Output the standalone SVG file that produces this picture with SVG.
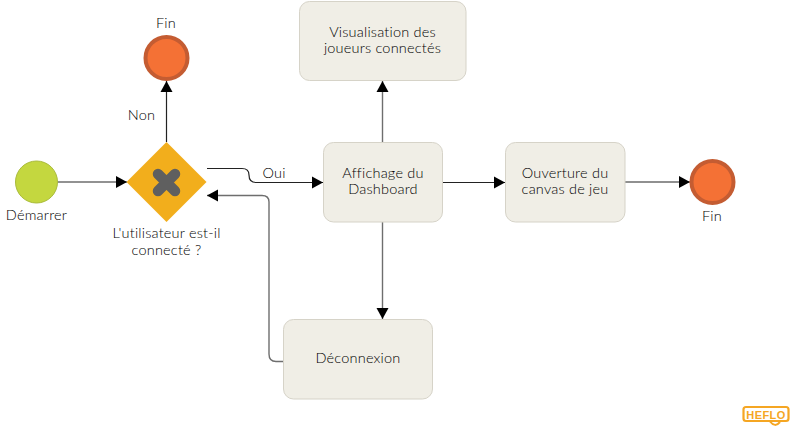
<svg xmlns="http://www.w3.org/2000/svg" width="792" height="431" viewBox="0 0 792 431">
<style>
text{font-family:"Lato","Liberation Sans",sans-serif;font-size:14.500px;font-weight:300;letter-spacing:.2px;fill:#000;text-anchor:middle}
.task{fill:#f0eee6;stroke:#d6d3c8;stroke-width:1}
.end{fill:#f47135;stroke:#c45c32;stroke-width:4}
.c{fill:none;stroke:#222;stroke-width:1.200}
.g{fill:none;stroke:#6e6e6e;stroke-width:1.400}
</style>
<defs>
<marker id="a" markerUnits="userSpaceOnUse" markerWidth="12" markerHeight="13" refX="11" refY="6.500" orient="auto"><path d="M0 0.500L11 6.500L0 12.500Z" fill="#000"/></marker>
</defs>
<rect width="792" height="431" fill="#fff"/>
<g id="connectors">
<path class="g" d="M58 182H127" marker-end="url(#a)"/>
<path class="c" d="M166.500 142V81" marker-end="url(#a)"/>
<path class="c" d="M207 168.500H242Q249 168.500 249 175Q249 182.500 256 182.500H323" marker-end="url(#a)"/>
<path class="g" d="M283 361.500H276Q269 361.500 269 354V202Q269 195.500 262 195.500H207" marker-end="url(#a)"/>
<path class="g" d="M382.500 142V81" marker-end="url(#a)"/>
<path class="c" d="M442.500 182.500H505" marker-end="url(#a)"/>
<path class="g" d="M382.500 222V319" marker-end="url(#a)"/>
<path class="c" d="M625 182H690" marker-end="url(#a)"/>
</g>
<g id="start"><circle cx="36.500" cy="182" r="21" fill="#c4d73f" stroke="#a9bb3a"/><text x="36.500" y="220">Démarrer</text></g>
<g id="gateway"><path d="M166.500 142L206.500 182L166.500 222L126.500 182Z" fill="#f2ae1c"/>
<path d="M158 174L175 191M175 174L158 191" stroke="#5f5f5f" stroke-width="10.500" stroke-linecap="round"/>
<text x="166.500" y="238">L'utilisateur est-il</text><text x="166.500" y="255">connecté ?</text></g>
<g id="endTop"><circle class="end" cx="166.500" cy="58" r="21"/><text x="166" y="28">Fin</text></g>
<g id="visu"><rect class="task" x="299.500" y="1.500" width="166.500" height="79" rx="10"/><text x="382.500" y="37">Visualisation des</text><text x="382.500" y="53">joueurs connectés</text></g>
<g id="dashboard"><rect class="task" x="323.500" y="142.500" width="119" height="79.500" rx="10"/><text x="383" y="178">Affichage du</text><text x="383" y="194">Dashboard</text></g>
<g id="canvas"><rect class="task" x="505.500" y="142.500" width="119.500" height="79.500" rx="10"/><text x="565" y="178">Ouverture du</text><text x="565" y="194">canvas de jeu</text></g>
<g id="endRight"><circle class="end" cx="712.500" cy="182" r="21"/><text x="712" y="221">Fin</text></g>
<g id="logout"><rect class="task" x="283.500" y="319.500" width="149" height="79.500" rx="10"/><text x="358" y="363">Déconnexion</text></g>
<g id="labels"><text x="141.500" y="120">Non</text><text x="274" y="178">Oui</text></g>
<g id="logo"><rect x="743.500" y="407" width="45" height="14" rx="2.500" fill="#fff" stroke="#f5a623" stroke-width="2.200"/><path d="M770 421.500Q775 428 780 422" fill="none" stroke="#f5a623" stroke-width="2"/><text x="766" y="418.500" style="font-family:'Liberation Sans',sans-serif;font-size:11px;font-weight:700;fill:#f5a623;letter-spacing:.4px">HEFLO</text></g>
</svg>
